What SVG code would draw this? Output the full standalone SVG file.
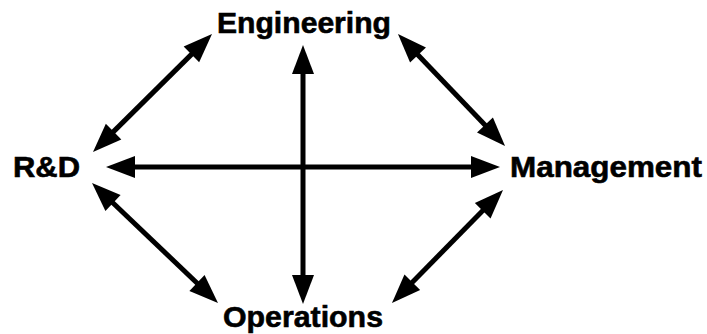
<svg xmlns="http://www.w3.org/2000/svg" width="707" height="334" viewBox="0 0 707 334">
<style>
.lbl{font-family:"Liberation Sans",Arial,sans-serif;font-weight:bold;font-size:29px;fill:#000;stroke:#000;stroke-width:0.6}
.c line{stroke:#000;stroke-width:5;stroke-linecap:butt;marker-start:url(#ah);marker-end:url(#ah)}
</style>
<defs>
<marker id="ah" markerUnits="userSpaceOnUse" viewBox="-10 -12 32 24" refX="0" refY="0" markerWidth="32" markerHeight="24" orient="auto-start-reverse" overflow="visible">
<path d="M20,0 L-9,-11 L-9,11 z" fill="#000"/>
</marker>
</defs>
<rect width="707" height="334" fill="#fff"/>
<g id="connectors" class="c">
<line x1="126" y1="167" x2="480" y2="167"/>
<line x1="303" y1="65" x2="303" y2="284"/>
<line x1="107.2" y1="137.9" x2="197.8" y2="48.1"/>
<line x1="411.8" y1="48.5" x2="491.2" y2="131.5"/>
<line x1="106.5" y1="196.8" x2="203.5" y2="289.2"/>
<line x1="406" y1="288.7" x2="489" y2="204.3"/>
</g>
<g id="engineering"><text class="lbl" x="217" y="33" textLength="174" lengthAdjust="spacingAndGlyphs">Engineering</text></g>
<g id="rnd"><text class="lbl" x="13" y="177" textLength="67" lengthAdjust="spacingAndGlyphs">R&amp;D</text></g>
<g id="management"><text class="lbl" x="510" y="177" textLength="192" lengthAdjust="spacingAndGlyphs">Management</text></g>
<g id="operations"><text class="lbl" x="223" y="327" textLength="160" lengthAdjust="spacingAndGlyphs">Operations</text></g>
</svg>
